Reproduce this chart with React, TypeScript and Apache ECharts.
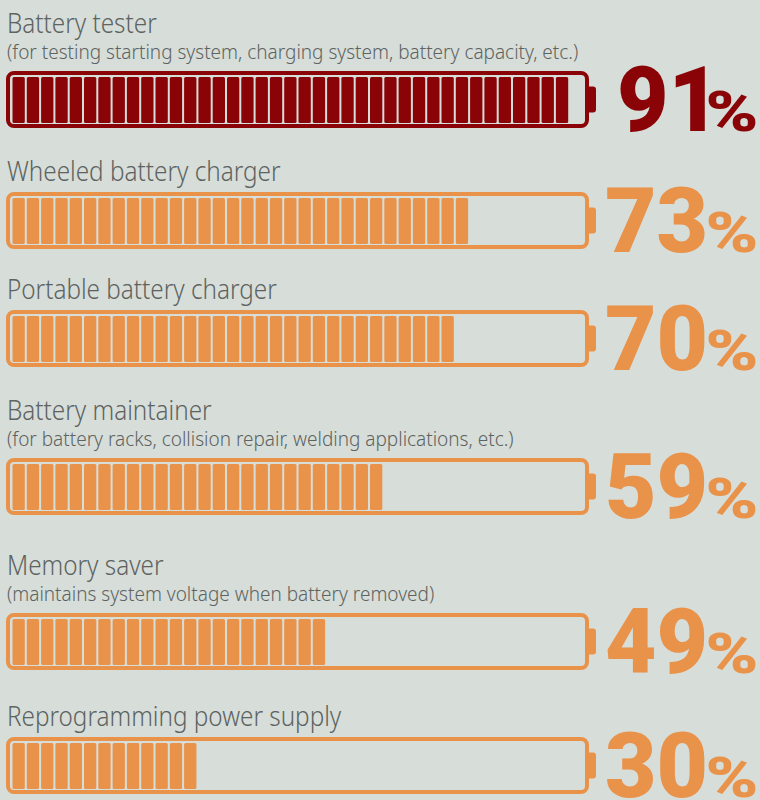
import React, { useEffect, useRef } from "react";
import * as echarts from "echarts";

// ---------- data ----------
const categories = [
  "Battery tester",
  "Wheeled battery charger",
  "Portable battery charger",
  "Battery maintainer",
  "Memory saver",
  "Reprogramming power supply",
];
const subtitles = [
  "(for testing starting system, charging system, battery capacity, etc.)",
  "",
  "",
  "(for battery racks, collision repair, welding applications, etc.)",
  "(maintains system voltage when battery removed)",
  "",
];
const values = [91, 73, 70, 59, 49, 30];
const highlighted = [true, false, false, false, false, false];

// ---------- layout & style ----------
const W = 760;
const H = 800;
const BG = "#d7ddd9";
const RED = "#8a0407";
const ORANGE = "#e9924a";
const TEXT = "#5d6361";
const BATTERY_TOPS = [71, 192, 310, 458, 613, 737];
const BATTERY_H = 57;
const GRID_LEFT = 27.52;
const PX_PER_PCT = 6.0947;
const SEG_START = 12.5;
const SEG_W = 12.3;
const PITCH = 14.3;

const TITLE_FONT = { family: '"Noto Sans"', size: 28, weight: 300 };
const SUB_FONT = { family: '"Noto Sans"', size: 20, weight: 300 };
const NUM_FONT = { family: "Roboto", size: 90, weight: 900 };
const PCT_FONT = { family: "Roboto", size: 55, weight: 900 };

function measurer() {
  const c = document.createElement("canvas");
  const ctx = c.getContext("2d")!;
  return (text: string, f: { family: string; size: number; weight: number }) => {
    ctx.font = `${f.weight} ${f.size}px ${f.family}`;
    const m = ctx.measureText(text);
    return {
      width: m.width,
      inkLeft: m.actualBoundingBoxLeft,
      inkRight: m.actualBoundingBoxRight,
      ink: m.actualBoundingBoxLeft + m.actualBoundingBoxRight,
    };
  };
}

export default function App() {
  const ref = useRef<HTMLDivElement>(null);

  useEffect(() => {
    document.body.style.margin = "0";
    document.body.style.background = BG;
    const measure = measurer();
    const titleScale = 148 / measure(categories[0], TITLE_FONT).ink;
    const subScale = 571 / measure(subtitles[0], SUB_FONT).ink;
    const numScale = 98 / measure("49", NUM_FONT).ink;
    const pctScale = 48 / measure("%", PCT_FONT).ink;

    const chart = echarts.init(ref.current!, undefined, { renderer: "svg" });

    const grids = categories.map((_, i) => ({
      left: GRID_LEFT,
      width: PX_PER_PCT * 100,
      top: BATTERY_TOPS[i],
      height: BATTERY_H,
    }));
    const xAxes = categories.map((_, i) => ({
      type: "value",
      gridIndex: i,
      min: 0,
      max: 100,
      show: false,
    }));
    const yAxes = categories.map((c, i) => ({
      type: "category",
      gridIndex: i,
      data: [c],
      show: false,
    }));

    const series = categories.map((cat, i) => ({
      type: "custom",
      xAxisIndex: i,
      yAxisIndex: i,
      clip: false,
      silent: true,
      data: [[values[i], 0]],
      renderItem: (_params: any, api: any) => {
        const v = api.value(0) as number;
        const [x1, yc] = api.coord([v, 0]);
        const color = highlighted[i] ? RED : ORANGE;
        const children: any[] = [];
        // battery body
        children.push({
          type: "rect",
          shape: { x: 8, y: yc - 26.5, width: 579, height: 53, r: 6 },
          style: { fill: "none", stroke: color, lineWidth: 4 },
        });
        // battery cap
        children.push({
          type: "rect",
          shape: { x: 588, y: yc - 13, width: 8, height: 26, r: [0, 3, 3, 0] },
          style: { fill: color },
        });
        // segments
        for (let k = 0; k < 60; k++) {
          const sx = SEG_START + k * PITCH;
          if (sx + SEG_W > x1) break;
          children.push({
            type: "rect",
            shape: { x: sx, y: yc - 22.5, width: SEG_W, height: 46, r: 1.5 },
            style: { fill: color },
          });
        }
        // titles
        const hasSub = !!subtitles[i];
        const titleBase = BATTERY_TOPS[i] - (hasSub ? 38 : 11);
        children.push({
          type: "text",
          x: 7,
          y: titleBase - 11,
          scaleX: titleScale,
          style: {
            text: cat,
            x: 0,
            y: 0,
            fill: TEXT,
            fontSize: TITLE_FONT.size,
            fontFamily: TITLE_FONT.family,
            fontWeight: TITLE_FONT.weight,
            textAlign: "left",
            align: "left",
            textVerticalAlign: "middle",
            verticalAlign: "middle",
          },
        });
        if (hasSub) {
          const subBase = BATTERY_TOPS[i] - 12;
          children.push({
            type: "text",
            x: 7,
            y: subBase - 7.8,
            scaleX: subScale,
            style: {
              text: subtitles[i],
              x: 0,
              y: 0,
              fill: TEXT,
              fontSize: SUB_FONT.size,
              fontFamily: SUB_FONT.family,
              fontWeight: SUB_FONT.weight,
              textAlign: "left",
              align: "left",
              textVerticalAlign: "middle",
              verticalAlign: "middle",
            },
          });
        }
        // percentage number
        const numStr = String(v);
        const nm = measure(numStr, NUM_FONT);
        const rsb = nm.width - nm.inkRight;
        children.push({
          type: "text",
          x: 705 + rsb * numScale,
          y: yc + 1,
          scaleX: numScale,
          style: {
            text: numStr,
            x: 0,
            y: 0,
            fill: color,
            fontSize: NUM_FONT.size,
            fontFamily: NUM_FONT.family,
            fontWeight: NUM_FONT.weight,
            textAlign: "right",
            align: "right",
            textVerticalAlign: "middle",
            verticalAlign: "middle",
          },
        });
        const pm = measure("%", PCT_FONT);
        children.push({
          type: "text",
          x: 708 + pm.inkLeft * pctScale,
          y: yc + 13,
          scaleX: pctScale,
          style: {
            text: "%",
            x: 0,
            y: 0,
            fill: color,
            fontSize: PCT_FONT.size,
            fontFamily: PCT_FONT.family,
            fontWeight: PCT_FONT.weight,
            textAlign: "left",
            align: "left",
            textVerticalAlign: "middle",
            verticalAlign: "middle",
          },
        });
        return { type: "group", children };
      },
    }));

    chart.setOption({
      animation: false,
      backgroundColor: BG,
      grid: grids,
      xAxis: xAxes,
      yAxis: yAxes,
      series,
    } as any);

    return () => chart.dispose();
  }, []);

  return (
    <div
      ref={ref}
      style={{ position: "absolute", left: 0, top: 0, width: W, height: H }}
    />
  );
}
